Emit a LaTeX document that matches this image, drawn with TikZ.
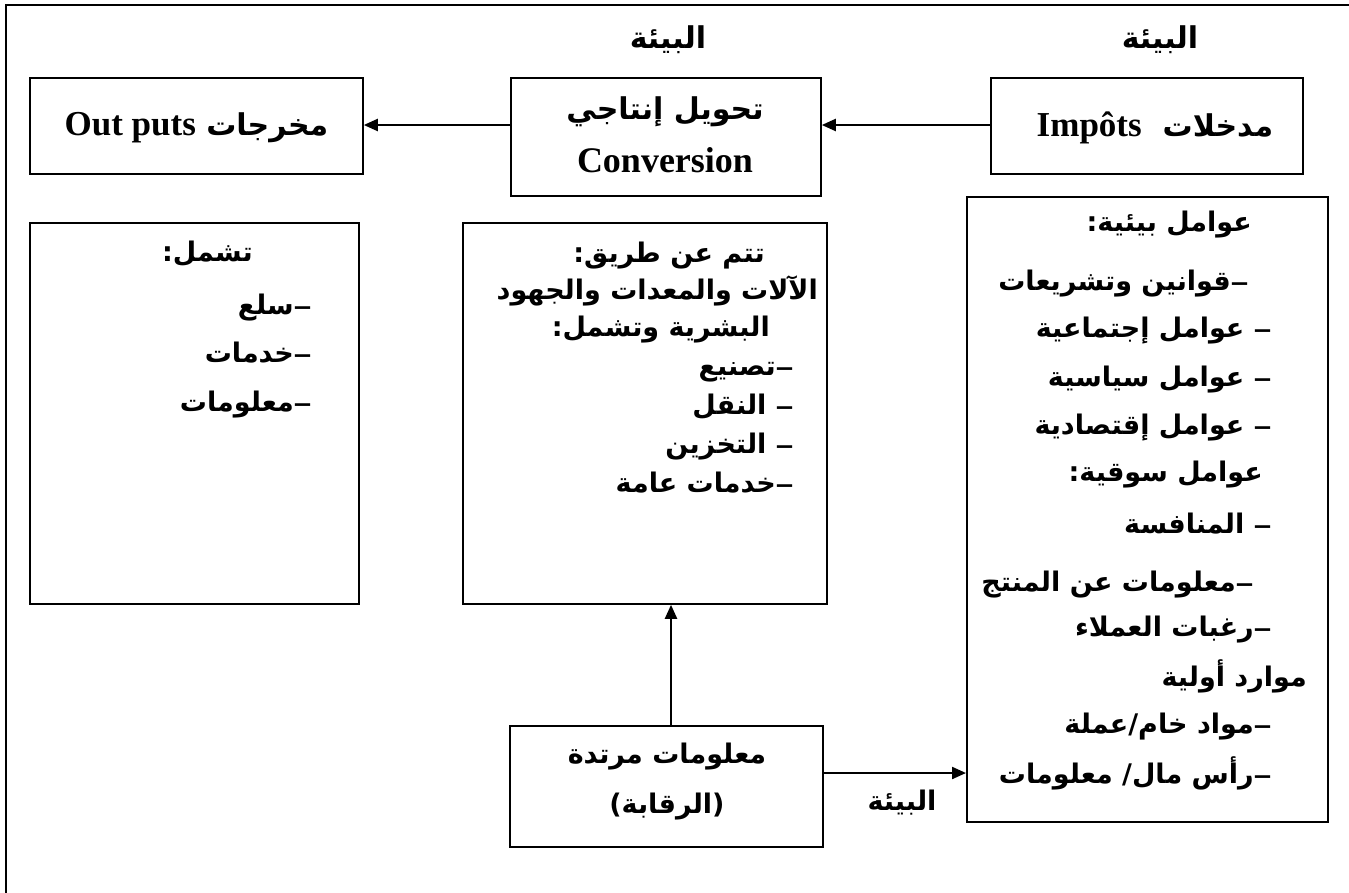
\documentclass[tikz,border=0pt]{standalone}
\usepackage{fontspec}
\usetikzlibrary{arrows.meta}
\TeXXeTstate=1
\newfontfamily\arabicfont[Script=Arabic]{DejaVu Sans}
\newfontfamily\latinfont{Liberation Serif}
\newcommand\rtl[1]{\beginR#1\endR}
\newcommand\ltr[1]{\beginL#1\endL{}}
% the long list dash
\newcommand\ldash{\raisebox{-4pt}{\mdseries\fontsize{38}{40}\selectfont –}}

\tikzset{
  box/.style={draw, line width=1.8pt, inner sep=0pt, anchor=north west},
  arr/.style={-{Triangle[length=14pt,width=12pt]}, line width=2.2pt},
  item/.style={anchor=east, inner sep=0pt, text height=20pt, text depth=7pt,
    font=\arabicfont\bfseries\fontsize{27}{32}\selectfont},
  head/.style={inner sep=0pt, font=\arabicfont\bfseries\fontsize{30}{36}\selectfont},
  env/.style={inner sep=0pt, font=\arabicfont\bfseries\fontsize{27}{32}\selectfont},
  lat/.style={font=\latinfont\bfseries\fontsize{36}{40}\selectfont}
}

\begin{document}
\begin{tikzpicture}[x=1pt,y=-1pt]
\useasboundingbox (0,0) rectangle (1349,892);
\clip (0,0) rectangle (1349,892);
\fill[white] (0,0) rectangle (1349,892);

% outer frame, running off the page at the right and bottom
\draw[line width=1.8pt] (6,900) -- (6,5) -- (1360,5);

% top row: inputs -> conversion -> outputs
\node[box, minimum width=333pt, minimum height=96pt] (outbox) at (29,77) {};
\node[box, minimum width=310pt, minimum height=118pt] (convbox) at (510,77) {};
\node[box, minimum width=312pt, minimum height=96pt] (inbox) at (990,77) {};

\node[head] (outtxt) at ([yshift=-2pt]outbox.center)
  {\rtl{مخرجات \ltr{\latinfont\fontsize{35}{40}\selectfont Out puts}}};
\node[head] (conv1) at (665,112) {\rtl{تحويل إنتاجي}};
\node[lat] (conv2) at (665,160) {Conversion};
\node[head] (intxt) at ([xshift=8pt,yshift=-2pt]inbox.center)
  {\rtl{مدخلات\ \ \ltr{\latinfont\fontsize{35}{40}\selectfont Impôts}}};

\node[head] (envA) at (668,40) {\rtl{البيئة}};
\node[head] (envB) at (1160,40) {\rtl{البيئة}};

\coordinate (rowy) at (0,125);
\draw[arr] (inbox.west |- rowy) -- (convbox.east |- rowy);
\draw[arr] (convbox.west |- rowy) -- (outbox.east |- rowy);

% detail boxes
\node[box, minimum width=329pt, minimum height=381pt] (outdet) at (29,222) {};
\node[box, minimum width=364pt, minimum height=381pt] (convdet) at (462,222) {};
\node[box, minimum width=361pt, minimum height=625pt] (envdet) at (966,196) {};

% outputs detail
\node[item] (o1) at (253,255) {\rtl{تشمل:}};
\node[item] (o2) at (313,308) {\rtl{\ldash سلع}};
\node[item] (o3) at (313,356) {\rtl{\ldash خدمات}};
\node[item] (o4) at (313,405) {\rtl{\ldash معلومات}};

% conversion detail
\node[item] (c1) at (765,256) {\rtl{تتم عن طريق:}};
\node[item] (c2) at (818,293) {\rtl{الآلات والمعدات والجهود}};
\node[item] (c3) at (770,330) {\rtl{البشرية وتشمل:}};
\node[item] (c4) at (795,369) {\rtl{\ldash تصنيع}};
\node[item] (c5) at (795,408) {\rtl{\ldash\ النقل}};
\node[item] (c6) at (795,447) {\rtl{\ldash\ التخزين}};
\node[item] (c7) at (795,486) {\rtl{\ldash خدمات عامة}};

% environment factors
\node[item] (e1) at (1252,225) {\rtl{عوامل بيئية:}};
\node[item] (e2) at (1250,284) {\rtl{\ldash قوانين وتشريعات}};
\node[item] (e3) at (1273,331) {\rtl{\ldash\ عوامل إجتماعية}};
\node[item] (e4) at (1273,380) {\rtl{\ldash\ عوامل سياسية}};
\node[item] (e5) at (1273,428) {\rtl{\ldash\ عوامل إقتصادية}};
\node[item] (e6) at (1263,475) {\rtl{عوامل سوقية:}};
\node[item] (e7) at (1273,527) {\rtl{\ldash\ المنافسة}};
\node[item] (e8) at (1255,585) {\rtl{\ldash معلومات عن المنتج}};
\node[item] (e9) at (1273,630) {\rtl{\ldash رغبات العملاء}};
\node[item] (e10) at (1307,680) {\rtl{موارد أولية}};
\node[item] (e11) at (1273,727) {\rtl{\ldash مواد خام/عملة}};
\node[item] (e12) at (1273,777) {\rtl{\ldash رأس مال/ معلومات}};

% feedback
\node[box, minimum width=313pt, minimum height=121pt] (fb) at (509,725) {};
\node[env] (fb1) at (667,757) {\rtl{معلومات مرتدة}};
\node[env] (fb2) at (667,807) {\rtl{(الرقابة)}};
\node[env] (envC) at (902,803) {\rtl{البيئة}};

\coordinate (upx) at (671,0);
\coordinate (fby) at (0,773);
\draw[arr] (fb.north -| upx) -- (convdet.south -| upx);
\draw[arr] (fb.east |- fby) -- (envdet.west |- fby);
\end{tikzpicture}
\end{document}
